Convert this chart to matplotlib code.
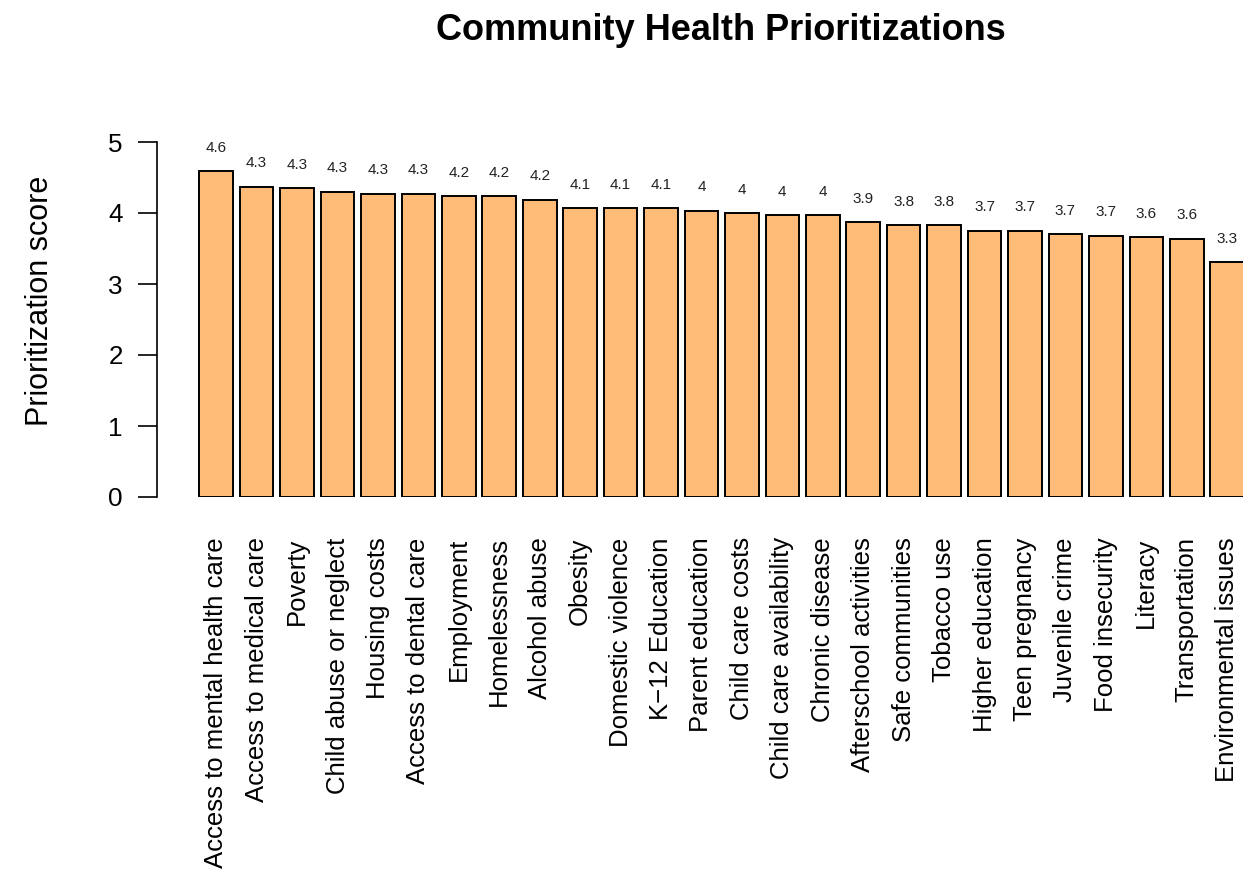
import numpy as np
import matplotlib
matplotlib.use("Agg")
import matplotlib.pyplot as plt

plt.rcParams['font.family'] = ['Liberation Sans', 'DejaVu Sans']

# priorities, sorted as in the source chart
categories = [
    "Access to mental health care", "Access to medical care", "Poverty",
    "Child abuse or neglect", "Housing costs", "Access to dental care",
    "Employment", "Homelessness", "Alcohol abuse", "Obesity",
    "Domestic violence", "K\u221212 Education", "Parent education",
    "Child care costs", "Child care availability", "Chronic disease",
    "Afterschool activities", "Safe communities", "Tobacco use",
    "Higher education", "Teen pregnancy", "Juvenile crime",
    "Food insecurity", "Literacy", "Transportation", "Environmental issues",
]
scores = [4.59, 4.37, 4.35, 4.30, 4.27, 4.27, 4.24, 4.24, 4.19, 4.07,
          4.07, 4.07, 4.03, 4.00, 3.97, 3.97, 3.87, 3.83, 3.83, 3.75,
          3.75, 3.70, 3.68, 3.66, 3.64, 3.31]
score_labels = ["4.6", "4.3", "4.3", "4.3", "4.3", "4.3", "4.2", "4.2", "4.2", "4.1",
                "4.1", "4.1", "4", "4", "4", "4", "3.9", "3.8", "3.8", "3.7",
                "3.7", "3.7", "3.7", "3.6", "3.6", "3.3"]

W, H = 1243, 873
fig = plt.figure(figsize=(W / 100, H / 100), dpi=100)

# axes placed in pixel terms to match the R layout
ax_left, ax_bottom, ax_top = 157, 497, 100
ax = fig.add_axes([ax_left / W, (H - ax_bottom) / H, (W - ax_left) / W, (ax_bottom - ax_top) / H])

x = np.arange(len(categories))
ax.bar(x, scores, width=0.83, color="#ffbb78", edgecolor="black", linewidth=1.4)

for xi, v, lab in zip(x, scores, score_labels):
    ax.text(xi, v + 0.33, lab, ha="center", va="center", fontsize=11, color="#222222", clip_on=False)

px_per_bar, first_px = 40.44, 216.2
ax.set_xlim((ax_left - first_px) / px_per_bar, (W - first_px) / px_per_bar)
ax.set_ylim(0, (ax_bottom - ax_top) / 71.0)

for s in ["top", "right", "bottom"]:
    ax.spines[s].set_visible(False)
ax.spines["left"].set_bounds(0, 5)
ax.spines["left"].set_linewidth(1.2)
ax.set_yticks([0, 1, 2, 3, 4, 5])
ax.tick_params(axis="y", length=13.7, width=1.2, pad=11, labelsize=18.7)

ax.set_xticks(x)
ax.set_xticklabels(categories, rotation=90, fontsize=18.5)
ax.tick_params(axis="x", length=0, pad=29)

fig.text(40 / W, 1 - 301 / H, "Prioritization score", rotation=90, ha="center", va="center", fontsize=22)
fig.text(721 / W, 1 - 30 / H, "Community Health Prioritizations", ha="center", va="center",
         fontsize=26, fontweight="bold")

fig.savefig("out.png", dpi=100)
